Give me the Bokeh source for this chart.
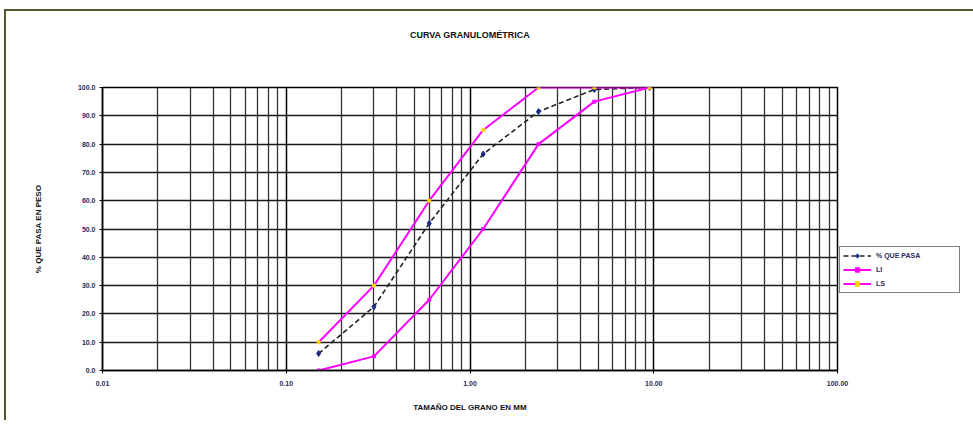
from bokeh.plotting import figure
from bokeh.models import (FixedTicker, PrintfTickFormatter, Legend, LegendItem, Title)
from bokeh.embed import file_html
from bokeh.resources import INLINE

# ---- data ----
sizes = [0.15, 0.30, 0.60, 1.18, 2.36, 4.75, 9.50]
passing = [6.0, 22.5, 52.0, 76.5, 91.5, 99.3, 100.0]
lower_limit = [0, 5, 25, 50, 80, 95, 100]
upper_limit = [10, 30, 60, 85, 100, 100, 100]
x_major = [0.01, 0.1, 1, 10, 100]
x_minor = [d * k for d in [0.01, 0.1, 1, 10] for k in range(2, 10)]
y_major = list(range(0, 101, 10))

FONT = "Liberation Sans"

p = figure(x_axis_type="log", x_range=(0.01, 100), y_range=(0, 100),
           frame_width=735, frame_height=283,
           min_border_left=96, min_border_right=127, min_border_top=76, min_border_bottom=50,
           output_backend="svg", toolbar_location=None, title=None)
p.styles = {"border-left": "2px solid #55552e", "border-top": "2px solid #55552e",
            "margin-left": "4px", "margin-top": "9px"}

# spacer title (nearest the frame) then the real title above it
spacer = Title(text="\u00a0", text_font=FONT, text_font_size="9px", standoff=36)
p.add_layout(spacer, "above")
t = Title(text="CURVA GRANULOMÉTRICA", align="center", text_font=FONT,
          text_font_size="9px", text_font_style="bold", text_color="#111111", standoff=0)
p.add_layout(t, "above")

p.outline_line_color = "black"
p.outline_line_width = 1.5

# axes
p.xaxis.ticker = FixedTicker(ticks=x_major, minor_ticks=x_minor)
p.xaxis.formatter = PrintfTickFormatter(format="%.2f")
p.yaxis.ticker = FixedTicker(ticks=y_major)
p.yaxis.formatter = PrintfTickFormatter(format="%.1f")
for ax in (p.xaxis, p.yaxis):
    ax.axis_line_color = "black"
    ax.axis_line_width = 1.5
    ax.major_tick_line_color = "black"
    ax.major_tick_in = 0
    ax.major_tick_out = 3
    ax.minor_tick_line_color = None
    ax.major_label_text_font = FONT
    ax.major_label_text_font_size = "7px"
    ax.major_label_text_font_style = "bold"
    ax.major_label_text_color = "#2a2a55"
    ax.axis_label_text_font = FONT
    ax.axis_label_text_font_size = "8px"
    ax.axis_label_text_font_style = "bold"
    ax.axis_label_text_color = "#111111"
p.xaxis.axis_label = "TAMAÑO DEL GRANO EN MM"
p.xaxis.major_label_standoff = 6
p.xaxis.axis_label_standoff = 14
p.yaxis.axis_label = "% QUE PASA EN PESO"
p.yaxis.major_label_standoff = 4
p.yaxis.axis_label_standoff = 32

# grid
p.xgrid.grid_line_color = "black"
p.xgrid.grid_line_width = 1.5
p.xgrid.minor_grid_line_color = "#333333"
p.xgrid.minor_grid_line_width = 1.3
p.ygrid.grid_line_color = "#1a1a1a"
p.ygrid.grid_line_width = 1.4

# series
r1l = p.line(sizes, passing, line_color="#222222", line_width=1.6, line_dash="5 3")
r1m = p.scatter(sizes, passing, marker="diamond", size=6, fill_color="#1a2a8a", line_color="#1a2a8a")
r2l = p.line(sizes, lower_limit, line_color="#ff00ff", line_width=2)
r2m = p.scatter(sizes, lower_limit, marker="square", size=3, fill_color="#ff00ff", line_color="#ff00ff")
r3l = p.line(sizes, upper_limit, line_color="#ff00ff", line_width=2)
r3m = p.scatter(sizes, upper_limit, marker="square", size=3, fill_color="#ffd700", line_color="#ffd700")

legend = Legend(items=[
    LegendItem(label="% QUE PASA", renderers=[r1l, r1m]),
    LegendItem(label="LI", renderers=[r2l, r2m]),
    LegendItem(label="LS", renderers=[r3l, r3m]),
], location=(2, 77))
legend.label_text_font = FONT
legend.label_text_font_size = "7px"
legend.label_text_font_style = "bold"
legend.label_text_color = "#2a2a55"
legend.glyph_width = 28
legend.glyph_height = 11
legend.label_height = 11
legend.label_width = 80
legend.spacing = 3
legend.padding = 3
legend.margin = 0
legend.label_standoff = 5
legend.border_line_color = "black"
legend.border_line_width = 1.5
legend.background_fill_alpha = 1
p.add_layout(legend, "right")

open("out.html", "w").write(file_html(p, INLINE))
